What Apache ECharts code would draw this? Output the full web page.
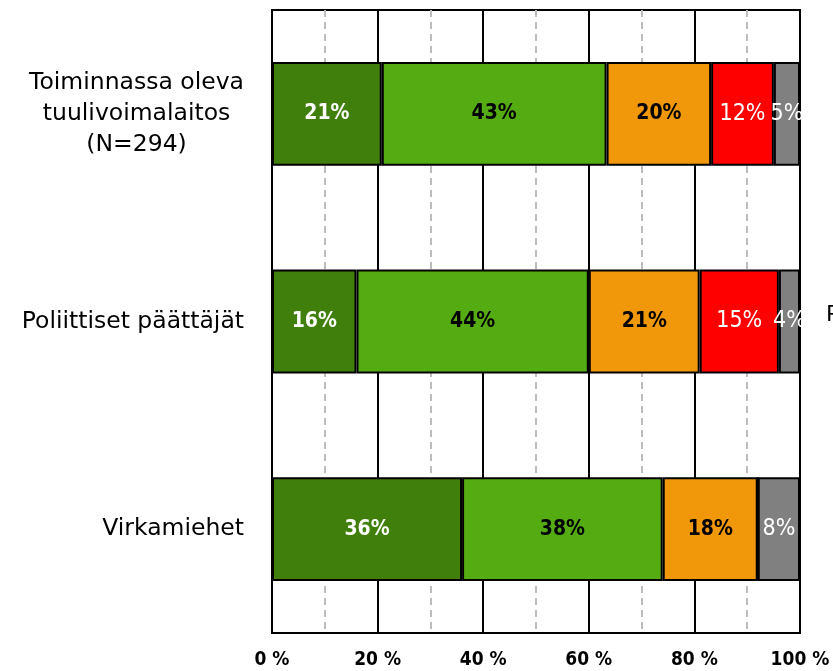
<!DOCTYPE html>
<html>
<head>
<meta charset="utf-8">
<script src="https://cdn.jsdelivr.net/npm/echarts@6/dist/echarts.min.js"></script>
<style>html,body{margin:0;padding:0;background:#fff;}#c{width:833px;height:671px;}</style>
</head>
<body>
<div id="c"></div>
<script>
var categories = ['Toiminnassa oleva\ntuulivoimalaitos\n(N=294)', 'Poliittiset päättäjät', 'Virkamiehet'];
var darkGreen = [21, 16, 36];
var lightGreen = [43, 44, 38];
var orange = [20, 21, 18];
var red = [12, 15, 0];
var gray = [5, 4, 8];
var tickLabels = ['0 %', '20 %', '40 %', '60 %', '80 %', '100 %'];

var seriesDefs = [
  {vals: darkGreen, color: '#417F0D', label: '#FFFFFF', bold: true},
  {vals: lightGreen, color: '#55AC12', label: '#000000', bold: true},
  {vals: orange, color: '#F0980A', label: '#000000', bold: true},
  {vals: red, color: '#FF0000', label: '#FFFFFF', bold: false},
  {vals: gray, color: '#808080', label: '#FFFFFF', bold: false}
];
var totals = categories.map(function (c, i) {
  return seriesDefs.reduce(function (s, d) { return s + d.vals[i]; }, 0);
});

var series = seriesDefs.map(function (d) {
  return {
    type: 'bar',
    stack: 'all',
    barWidth: '50%',
    data: d.vals.map(function (v, i) {
      return {value: v / totals[i] * 100, raw: v};
    }),
    itemStyle: {color: d.color, borderColor: '#000', borderWidth: 2},
    label: {
      show: true,
      position: 'inside',
      color: d.label,
      fontFamily: 'DejaVu Sans Condensed',
      fontWeight: d.bold ? 'bold' : 'normal',
      fontSize: d.bold ? 21 : 23,
      formatter: function (p) { return p.data.raw > 0 ? p.data.raw + '%' : ''; }
    }
  };
});

var chart = echarts.init(document.getElementById('c'));
chart.setOption({
  animation: false,
  backgroundColor: '#fff',
  grid: {left: 272, right: 33, top: 10, bottom: 38, show: true, borderColor: '#000', borderWidth: 2, containLabel: false},
  xAxis: {
    type: 'value', min: 0, max: 100, interval: 20,
    axisLine: {show: true, lineStyle: {color: '#000', width: 2}},
    axisTick: {show: false},
    axisLabel: {
      margin: 18, color: '#000', fontFamily: 'DejaVu Sans Condensed', fontWeight: 'bold', fontSize: 19,
      formatter: function (v) { return tickLabels[Math.round(v / 20)]; }
    },
    splitLine: {show: true, lineStyle: {color: '#000', width: 2}},
    minorTick: {show: false, splitNumber: 2},
    minorSplitLine: {show: true, lineStyle: {color: '#BDBDBD', width: 2, type: [7, 5]}}
  },
  yAxis: {
    type: 'category', inverse: true, data: categories,
    axisLine: {show: true, lineStyle: {color: '#000', width: 2}},
    axisTick: {show: false},
    axisLabel: {
      margin: 28, align: 'right', color: '#000', fontFamily: 'DejaVu Sans', fontSize: 23.5, lineHeight: 31,
      formatter: function (v) { return v.split('\n').map(function (l) { return '{c|' + l + '}'; }).join('\n'); },
      rich: {c: {align: 'center', fontFamily: 'DejaVu Sans', fontSize: 23.5, lineHeight: 31, color: '#000'}}
    },
    splitLine: {show: false}
  },
  graphic: [{
    type: 'text', left: 826, top: 304,
    style: {text: 'P', font: '22px "DejaVu Sans"', fill: '#000'}
  }],
  series: series
});
</script>
</body>
</html>
